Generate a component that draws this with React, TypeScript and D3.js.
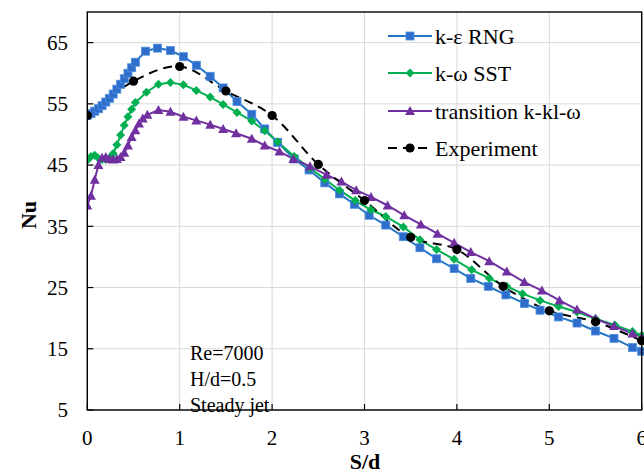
import React from 'react';
import * as d3 from 'd3';

// k-epsilon RNG
const rngS = [0, 0.04, 0.08, 0.12, 0.16, 0.2, 0.24, 0.28, 0.32, 0.36, 0.4, 0.44, 0.48, 0.52, 0.63, 0.76, 0.9, 1.04, 1.18, 1.33, 1.47, 1.62, 1.78, 1.92, 2.06, 2.24, 2.4, 2.57, 2.73, 2.89, 3.05, 3.23, 3.42, 3.6, 3.78, 3.97, 4.15, 4.34, 4.53, 4.73, 4.9, 5.1, 5.3, 5.5, 5.7, 5.9, 6.0];
const rngNu = [53.1, 53.4, 53.8, 54.2, 54.7, 55.3, 55.9, 56.6, 57.4, 58.2, 59.1, 60.0, 60.9, 61.8, 63.6, 64.1, 63.7, 62.7, 61.3, 59.5, 57.6, 55.4, 53.3, 50.9, 48.7, 46.0, 44.2, 42.1, 40.3, 38.6, 36.8, 35.2, 33.3, 31.5, 29.7, 28.1, 26.5, 25.2, 23.8, 22.4, 21.3, 20.2, 19.2, 17.9, 16.7, 15.2, 14.6];

// k-omega SST
const sstS = [0, 0.04, 0.08, 0.12, 0.16, 0.2, 0.24, 0.28, 0.32, 0.36, 0.4, 0.44, 0.48, 0.52, 0.64, 0.77, 0.9, 1.04, 1.18, 1.33, 1.47, 1.62, 1.78, 1.92, 2.06, 2.24, 2.41, 2.57, 2.73, 2.9, 3.07, 3.23, 3.42, 3.6, 3.78, 3.97, 4.16, 4.35, 4.54, 4.71, 4.9, 5.1, 5.3, 5.5, 5.71, 5.9, 6.0];
const sstNu = [45.8, 46.4, 46.6, 46.1, 45.9, 45.9, 46.2, 46.9, 48.3, 49.9, 51.5, 52.9, 54.1, 55.2, 56.9, 58.2, 58.5, 58.1, 57.2, 56.1, 54.9, 53.6, 52.2, 50.6, 48.8, 46.4, 44.5, 42.7, 40.9, 39.2, 37.7, 36.6, 34.9, 32.8, 31.2, 29.6, 27.9, 26.5, 25.2, 24.0, 22.9, 21.9, 21.0, 19.9, 18.9, 17.8, 17.2];

// transition k-kl-omega
const kklS = [0, 0.04, 0.08, 0.12, 0.16, 0.2, 0.24, 0.28, 0.32, 0.36, 0.4, 0.44, 0.48, 0.52, 0.56, 0.6, 0.65, 0.77, 0.9, 1.04, 1.18, 1.33, 1.47, 1.61, 1.78, 1.92, 2.08, 2.23, 2.41, 2.59, 2.75, 2.91, 3.07, 3.25, 3.43, 3.61, 3.79, 3.97, 4.15, 4.35, 4.54, 4.73, 4.92, 5.11, 5.3, 5.5, 5.7, 5.9, 6.0];
const kklNu = [38.4, 40.0, 42.6, 45.0, 46.2, 46.3, 46.0, 45.9, 46.0, 46.3, 47.0, 48.2, 49.6, 50.7, 51.8, 52.6, 53.2, 54.0, 53.7, 52.9, 52.3, 51.6, 50.9, 50.2, 49.3, 48.2, 47.2, 46.0, 44.8, 43.4, 42.3, 40.9, 39.8, 38.4, 36.8, 35.3, 33.8, 32.3, 30.8, 29.3, 27.6, 25.9, 24.5, 22.9, 21.4, 19.9, 18.7, 17.5, 16.9];

// experiment
const expS = [0, 0.5, 1, 1.5, 2, 2.5, 3, 3.5, 4, 4.5, 5, 5.5, 6];
const expNu = [53.1, 58.7, 61.1, 57.1, 53.1, 45.1, 39.2, 33.2, 31.2, 25.2, 21.2, 19.4, 16.3];

const xTicks = [0, 1, 2, 3, 4, 5, 6];
const yTicks = [5, 15, 25, 35, 45, 55, 65];
const legendNames = ['k-\u03b5 RNG', 'k-\u03c9 SST', 'transition k-kl-\u03c9', 'Experiment'];
const notes = ['Re=7000', 'H/d=0.5', 'Steady jet'];

const W = 644;
const H = 474;
const left = 87.3;
const right = 641.7;
const top = 12;
const bottom = 410;
const font = '"Liberation Serif", "Times New Roman", serif';

const BLUE = '#2174C6';
const BLUE_M = '#2F6DCB';
const GREEN = '#00B050';
const PURPLE = '#7030A0';

const x = d3.scaleLinear().domain([0, 6]).range([left, right]);
const y = d3.scaleLinear().domain([5, 70]).range([bottom, top]);

const zip = (s: number[], v: number[]) => s.map((d, i) => [d, v[i]] as [number, number]);

const straight = d3.line<[number, number]>().x(d => x(d[0])).y(d => y(d[1]));
const smooth = d3.line<[number, number]>().x(d => x(d[0])).y(d => y(d[1])).curve(d3.curveCatmullRom);

const square = (cx: number, cy: number, k: string | number) => (
  <rect key={k} x={cx - 4} y={cy - 4} width={8} height={8} fill={BLUE_M} stroke="#4C8FDF" strokeWidth={0.8} />
);
const diamond = (cx: number, cy: number, k: string | number) => (
  <path key={k} d={`M${cx},${cy - 4.5}L${cx + 4.5},${cy}L${cx},${cy + 4.5}L${cx - 4.5},${cy}Z`} fill={GREEN} />
);
const tri = (cx: number, cy: number, k: string | number) => (
  <path key={k} d={`M${cx},${cy - 5}L${cx + 5},${cy + 4}L${cx - 5},${cy + 4}Z`} fill={PURPLE} />
);
const dot = (cx: number, cy: number, k: string | number) => (
  <circle key={k} cx={cx} cy={cy} r={4.6} fill="#000" />
);

export default function App() {
  const rng = zip(rngS, rngNu);
  const sst = zip(sstS, sstNu);
  const kkl = zip(kklS, kklNu);
  const exp = zip(expS, expNu);

  const legendY = [36, 73, 111, 148];
  const legendStyles = [
    { c: BLUE, m: square, dash: undefined },
    { c: GREEN, m: diamond, dash: undefined },
    { c: PURPLE, m: tri, dash: undefined },
    { c: '#000', m: dot, dash: '9,6' },
  ];

  return (
    <svg width={W} height={H} style={{ position: 'absolute', left: 0, top: 0, background: '#fff' }} fontFamily={font}>
      <defs>
        <clipPath id="plot">
          <rect x={left} y={top - 6} width={W - left} height={bottom - top + 12} />
        </clipPath>
      </defs>

      {/* grid */}
      {yTicks.map(t => (
        <line key={'gy' + t} x1={left} x2={right} y1={y(t)} y2={y(t)} stroke="#D9D9D9" strokeWidth={1} />
      ))}
      {xTicks.map(t => (
        <line key={'gx' + t} x1={x(t)} x2={x(t)} y1={top} y2={bottom} stroke="#D9D9D9" strokeWidth={1} />
      ))}

      {/* series */}
      <g clipPath="url(#plot)">
        <path d={straight(rng) || ''} fill="none" stroke={BLUE} strokeWidth={2} />
        <path d={straight(sst) || ''} fill="none" stroke={GREEN} strokeWidth={2} />
        <path d={straight(kkl) || ''} fill="none" stroke={PURPLE} strokeWidth={2} />
        <path d={smooth(exp) || ''} fill="none" stroke="#000" strokeWidth={2} strokeDasharray="9,6" />
        {rng.map((d, i) => square(x(d[0]), y(d[1]), 'r' + i))}
        {sst.map((d, i) => diamond(x(d[0]), y(d[1]), 's' + i))}
        {kkl.map((d, i) => tri(x(d[0]), y(d[1]), 'k' + i))}
        {exp.map((d, i) => dot(x(d[0]), y(d[1]), 'e' + i))}
      </g>

      {/* frame and ticks */}
      <rect x={left} y={top} width={right - left} height={bottom - top} fill="none" stroke="#000" strokeWidth={1.4} />
      {yTicks.map(t => (
        <line key={'ty' + t} x1={left} x2={left + 6} y1={y(t)} y2={y(t)} stroke="#000" strokeWidth={1.2} />
      ))}
      {xTicks.map(t => (
        <line key={'tx' + t} x1={x(t)} x2={x(t)} y1={bottom} y2={bottom - 6} stroke="#000" strokeWidth={1.2} />
      ))}

      {/* tick labels */}
      {yTicks.map(t => (
        <text key={'ly' + t} x={68} y={y(t)} dy="0.35em" textAnchor="end" fontSize={21} fill="#000">{t}</text>
      ))}
      {xTicks.map(t => (
        <text key={'lx' + t} x={x(t)} y={445} textAnchor="middle" fontSize={21} fill="#000">{t}</text>
      ))}

      {/* axis titles */}
      <text x={365} y={469} textAnchor="middle" fontSize={22} fontWeight="bold">S/d</text>
      <text transform={`translate(28,${215}) rotate(-90)`} dy="0.35em" textAnchor="middle" fontSize={22} fontWeight="bold">Nu</text>

      {/* annotation */}
      {notes.map((n, i) => (
        <text key={'n' + i} x={190} y={360 + i * 26} fontSize={20}>{n}</text>
      ))}

      {/* legend */}
      {legendNames.map((name, i) => {
        const st = legendStyles[i];
        const ly = legendY[i];
        return (
          <g key={'lg' + i}>
            <line x1={388} x2={432} y1={ly} y2={ly} stroke={st.c} strokeWidth={2} strokeDasharray={st.dash} />
            {st.m(410, ly, 'lm' + i)}
            <text x={435} y={ly} dy="0.35em" fontSize={22}>{name}</text>
          </g>
        );
      })}
    </svg>
  );
}
